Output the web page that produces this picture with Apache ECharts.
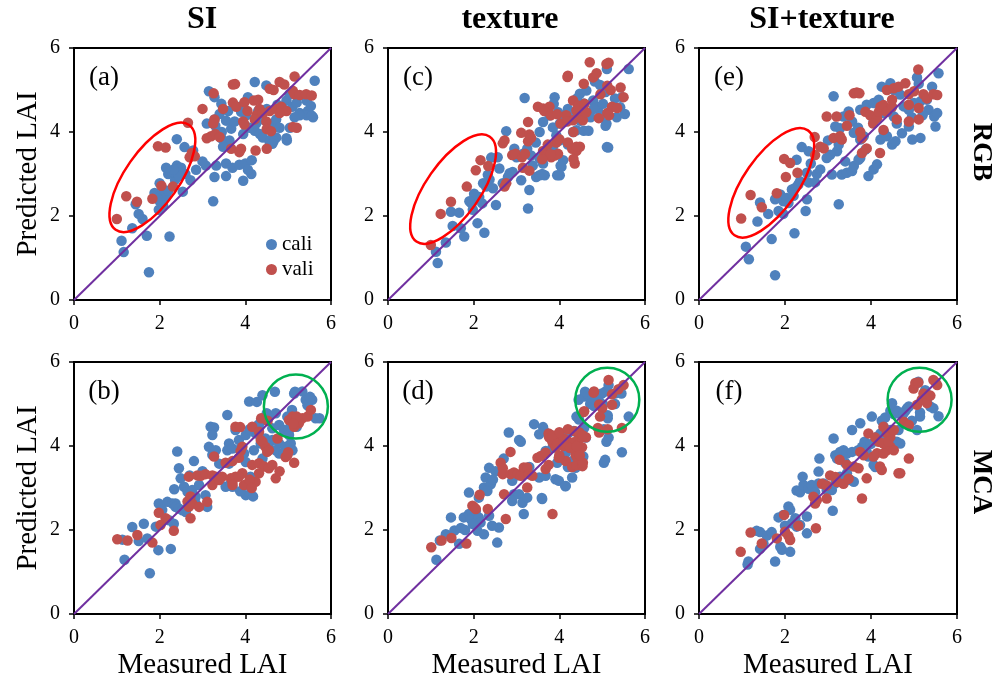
<!DOCTYPE html>
<html>
<head>
<meta charset="utf-8">
<script src="https://cdn.jsdelivr.net/npm/echarts@6/dist/echarts.min.js"></script>
<style>
html, body { margin: 0; padding: 0; background: #fff; }
#chartmain { width: 995px; height: 684px; }
</style>
</head>
<body>
<div id="chartmain"></div>
<script>
// measured vs predicted LAI, [measured, predicted]
var aCali = [[1.75,0.66],[1.16,1.14],[1.11,1.41],[2.23,1.51],[1.70,1.53],[1.36,1.71],[1.60,1.93],[1.51,2.05],[1.44,2.28],
  [1.98,2.15],[2.08,2.25],[2.00,2.35],[1.88,2.55],[2.04,2.50],[2.15,2.45],[2.00,2.78],[2.10,2.62],[1.95,2.42],[2.20,2.60],
  [2.36,2.86],[2.54,2.58],[2.20,3.00],[2.30,3.05],[2.40,3.20],[2.50,3.15],[2.45,2.95],[2.32,3.10],[2.15,3.15],
  [2.40,3.83],[2.58,3.64],[2.78,3.56],[2.72,2.85],[3.25,2.35],[3.28,2.93],[3.08,3.20],[3.32,3.20],[3.55,3.25],
  [3.55,2.95],[3.70,3.15],[3.86,3.22],[4.00,3.25],[4.15,3.33],[3.95,2.84],[4.14,3.00],[4.06,3.10],
  [3.15,4.97],[3.28,4.83],[3.44,4.67],[3.40,4.43],[3.55,4.27],[3.28,4.30],[3.67,4.08],[3.63,3.80],[3.48,3.65],[3.44,3.85],
  [3.75,4.25],[3.90,4.48],[4.02,4.40],[4.06,4.83],[3.87,4.60],[4.22,5.19],[4.49,5.11],[4.22,4.03],[4.34,3.95],[4.41,3.87],
  [4.57,3.75],[4.61,3.83],[4.72,3.87],[4.65,4.20],[4.72,4.30],[4.80,4.10],[4.96,3.85],[5.04,4.10],[4.96,4.75],[5.03,4.90],
  [5.10,4.60],[5.20,4.70],[5.27,4.45],[5.43,4.75],[5.46,4.50],[5.58,4.35],[5.43,4.40],[5.27,4.40],[5.62,5.22],[5.53,4.62],
  [5.55,4.39],[4.97,3.80],[4.66,3.78],[4.63,3.72],[3.45,4.00],[3.60,4.50],[4.30,4.50],[4.50,4.55],[4.85,4.60],[4.40,4.30],
  [3.00,3.30],[2.85,3.10],[2.60,3.00],[3.10,4.20],[3.30,4.15],[3.95,3.95],[4.10,4.10],[4.25,4.20],[4.75,4.65],[5.15,4.35]];
var aVali = [[1.00,1.93],[1.22,2.47],[1.47,2.34],[1.83,2.41],[2.04,2.72],[2.31,2.70],[1.96,3.66],[2.14,3.63],[2.66,4.22],
  [2.70,3.40],[2.75,3.50],[2.82,3.42],[3.00,4.55],[3.26,4.92],[3.28,4.30],[3.25,4.20],[3.20,3.90],[3.30,3.95],[3.40,3.88],
  [3.71,5.13],[3.48,4.55],[3.71,4.70],[3.79,4.60],[3.67,3.60],[3.90,3.60],[3.86,3.52],[3.95,4.25],[3.98,4.18],[3.98,4.71],
  [4.24,3.56],[4.33,4.55],[4.26,4.40],[4.22,4.30],[4.41,4.45],[4.49,4.25],[4.57,4.50],[4.72,4.55],[4.84,4.60],[4.96,4.50],[4.80,4.45],
  [4.20,4.75],[4.30,4.77],[4.57,5.03],[4.80,5.19],[5.15,5.32],[5.11,4.98],[5.15,4.90],[5.27,4.88],[5.42,4.90],[5.55,4.87],
  [5.11,4.12],[4.50,4.07],[4.60,4.02],[3.76,5.14],[4.91,5.13],[4.66,5.00],[5.20,4.10],[4.50,3.60],[3.10,3.85],[4.05,4.50]];

var cCali = [[1.16,0.88],[1.12,1.15],[1.35,1.37],[1.51,1.76],[1.78,1.51],[1.70,1.71],[1.47,2.10],[1.66,2.08],[2.25,1.60],[2.09,1.83],
  [1.98,2.15],[1.95,2.30],[2.05,2.40],[2.13,2.45],[2.20,2.30],[2.01,2.53],[1.90,2.35],
  [2.29,2.70],[2.22,2.78],[2.37,2.87],[2.33,2.98],[2.45,2.66],[2.52,2.26],[2.41,3.39],[2.56,3.40],[2.60,3.13],
  [2.68,2.78],[2.84,3.02],[2.91,3.05],[2.80,2.93],[2.76,4.02],[3.11,2.85],[3.30,2.62],[3.27,2.18],[3.19,4.81],
  [3.00,3.40],[3.15,3.48],[3.34,3.44],[3.54,3.37],[3.46,2.93],[3.54,2.97],[3.66,2.97],[3.38,3.20],[3.62,3.25],
  [3.70,3.56],[3.77,3.48],[3.85,3.64],[4.01,3.80],[3.93,3.92],[3.54,4.00],[3.62,4.24],[3.77,4.39],[3.85,4.11],[4.01,4.20],[4.09,4.35],[4.16,4.27],[3.97,4.47],
  [3.89,4.83],[4.01,2.97],[4.05,3.17],[4.09,3.33],[4.32,4.00],[4.48,4.28],[4.63,4.43],[4.40,4.04],[4.48,4.91],[4.63,4.99],
  [4.79,4.75],[4.91,4.59],[5.02,4.67],[4.95,4.35],[5.10,4.20],[4.83,5.20],[4.95,5.12],[5.14,3.63],
  [5.62,5.50],[5.11,5.50],[5.11,3.64],[5.34,4.35],[5.53,4.43],[5.42,4.59],[5.46,4.83],[5.08,4.15],[4.96,4.43],[4.80,4.55],
  [4.73,4.35],[4.57,4.03],[4.68,4.03],[4.49,4.27],[5.08,4.95],[4.41,4.80],[4.57,4.68],[3.87,4.67],[4.03,3.20],[3.95,2.97],[3.60,3.00],
  [3.25,3.60],[2.95,3.60],[3.45,3.75],[4.20,4.55],[4.30,4.40],[5.25,4.60],[5.30,4.80],[4.20,3.70]];
var cVali = [[1.00,1.31],[1.23,2.05],[1.47,2.34],[1.84,2.70],[2.05,3.09],[2.16,3.33],[2.34,3.19],[2.72,2.70],[2.76,2.78],
  [2.68,3.73],[2.72,3.80],[2.90,3.45],[2.98,3.48],[3.13,3.40],[3.20,3.48],[3.11,3.98],[3.30,3.94],[3.27,3.78],[3.34,3.86],
  [3.27,4.24],[3.15,3.15],[3.30,3.08],[3.50,4.60],[3.62,4.56],[3.70,4.52],[3.77,4.60],[3.81,3.40],[3.89,3.44],[3.97,3.48],
  [3.93,3.75],[4.00,3.83],[4.16,4.40],[4.32,4.28],[4.40,4.51],[4.48,4.35],[4.55,4.28],[4.63,4.47],[4.32,4.75],[4.44,4.63],[4.59,4.67],
  [4.36,3.25],[4.40,3.55],[4.48,3.65],[4.20,5.34],[4.71,5.66],[4.79,5.30],[4.87,5.40],[5.10,5.62],[5.15,5.65],[4.19,5.31],
  [4.57,5.15],[4.96,4.90],[5.12,5.10],[5.20,5.00],[5.43,5.06],[5.50,4.83],[5.23,4.60],[5.35,4.57],[5.12,4.45],[5.16,4.40],[4.92,4.33],
  [3.65,4.50],[3.80,4.40],[3.95,4.42],[4.03,4.20],[4.18,4.25],[4.33,4.00],[4.20,3.75],[4.30,3.60],[4.40,3.65],[4.33,3.36],
  [3.73,3.70],[3.62,3.55],[3.72,3.45],[3.80,3.47],[3.60,3.35]];

var eCali = [[1.77,0.59],[1.16,0.97],[1.09,1.27],[1.69,1.45],[2.22,1.59],[1.36,1.87],[1.61,2.05],[1.42,2.32],[1.85,2.12],[1.96,2.05],
  [2.48,2.12],[2.51,2.40],[1.77,2.40],[1.89,2.51],[1.96,2.35],[2.04,2.43],[2.08,2.31],[2.16,2.63],[2.24,2.67],[2.31,2.75],[2.35,2.83],[2.20,2.48],
  [2.27,3.34],[2.39,3.64],[2.55,3.54],[2.51,3.03],[2.55,2.80],[2.70,2.80],[2.74,3.00],[2.82,3.11],
  [3.25,2.28],[3.13,4.85],[3.09,2.99],[3.32,2.99],[3.44,3.03],[3.56,3.07],[3.60,3.19],[3.71,3.34],[3.75,3.38],[3.94,2.95],[4.06,3.11],[4.14,3.23],
  [3.21,3.54],[3.25,3.70],[3.05,3.46],[2.97,3.38],[3.17,4.13],[3.28,4.09],[3.36,4.37],[3.48,4.49],[3.56,4.25],[3.60,3.98],[3.75,3.82],[3.83,3.90],[3.87,3.58],
  [3.75,4.53],[3.90,4.65],[4.06,4.69],[4.18,4.77],[4.25,5.08],[4.45,5.16],[4.53,5.00],[4.68,4.89],
  [4.22,3.82],[4.37,3.90],[4.49,3.70],[4.57,3.78],[4.72,3.97],[4.88,4.13],[4.96,3.82],[5.15,3.86],
  [4.06,4.25],[4.29,4.45],[4.45,4.53],[4.53,4.37],[4.76,4.61],[4.88,4.53],[5.00,4.69],[5.15,4.73],[5.30,4.77],[5.34,4.53],
  [5.07,5.30],[5.11,5.15],[5.47,4.37],[5.50,4.13],[5.57,5.40],[5.42,5.08],[5.54,4.45],
  [3.40,3.30],[3.00,3.80],[4.30,4.00],[4.60,4.20],[4.95,4.35],[5.20,4.40],[3.70,4.10],[2.60,3.25]];
var eVali = [[0.98,1.94],[1.20,2.50],[1.46,2.21],[1.81,2.54],[2.02,2.93],[1.98,3.36],[2.12,3.26],[2.29,3.03],
  [2.69,3.88],[2.70,3.45],[2.82,3.65],[2.90,3.61],[2.97,4.37],[3.20,4.37],[3.13,3.86],[3.28,3.90],[3.32,3.82],[3.44,4.15],
  [3.60,4.92],[3.67,4.94],[3.73,4.92],[3.87,4.48],[3.98,4.40],[4.14,4.33],[4.18,4.48],[4.22,4.60],[4.29,4.64],[4.37,4.48],[4.49,4.60],
  [3.79,3.85],[3.90,3.61],[3.79,3.50],[4.21,3.50],[4.29,4.05],[3.75,4.00],[4.37,5.00],[4.53,5.04],[4.64,5.08],[4.80,5.16],[4.49,4.77],
  [4.88,4.90],[5.00,4.97],[4.88,4.25],[5.11,4.57],[5.11,4.30],[4.88,4.65],[5.22,4.90],[5.30,4.80],[5.10,5.49],[5.45,4.90],[5.54,4.88],
  [3.50,4.40],[4.05,4.20],[4.60,4.30]];

var bCali = [[1.77,0.97],[1.18,1.29],[1.13,1.77],[1.36,2.07],[1.63,2.15],[1.51,1.74],[1.97,1.52],[2.26,1.55],[1.71,1.80],
  [1.91,2.08],[1.98,2.63],[2.06,2.48],[2.18,2.67],[2.30,2.63],[2.37,2.63],[2.33,2.15],[2.22,2.23],
  [2.37,2.55],[2.45,2.51],[2.53,2.47],[2.61,2.43],[2.84,2.63],[2.34,2.97],[2.49,3.23],[2.57,3.03],[2.65,2.91],
  [2.41,3.87],[2.45,3.47],[2.80,3.64],[2.76,2.95],[2.84,2.79],[3.07,2.83],[3.11,2.55],[2.92,3.07],
  [3.19,4.46],[3.27,4.44],[3.23,4.26],[3.15,3.98],[3.23,3.79],[3.31,3.90],[3.39,3.58],
  [3.58,4.74],[3.62,4.06],[3.58,3.90],[3.70,3.94],[3.62,3.58],[3.85,4.14],[3.89,3.94],[3.97,3.82],[4.01,3.62],
  [3.54,3.03],[3.70,3.03],[3.66,3.11],[4.01,2.83],[4.09,5.06],[4.12,3.27],[4.12,3.03],
  [3.77,4.38],[4.01,4.26],[4.16,4.42],[4.24,4.30],[4.32,4.42],[4.36,4.06],[4.47,4.18],[4.55,4.06],[4.63,4.14],[4.79,4.06],[4.79,3.82],[4.71,3.90],[4.94,3.98],[5.02,4.26],[5.06,4.06],[5.10,3.90],[4.90,3.82],
  [4.40,5.21],[4.36,4.58],[4.55,4.70],[4.71,4.78],[4.79,4.50],[4.63,4.42],[4.90,4.38],[5.02,4.38],[5.14,4.58],
  [5.14,5.25],[5.41,5.10],[5.56,5.10],[5.45,4.97],[5.52,5.14],[5.33,5.30],[5.64,4.66],[5.51,5.17],[5.16,5.29],[5.73,4.66],[5.09,4.86],
  [4.98,4.70],[5.05,4.46],[5.20,4.46],[4.69,5.29],[4.27,5.05],[4.50,4.78],[4.10,4.40],[4.30,4.50],[4.18,2.80],[3.88,2.92],
  [3.00,3.40],[3.40,3.20],[4.40,3.70],[4.20,3.90],[2.70,3.30]];
var bVali = [[1.01,1.78],[1.25,1.75],[1.48,1.88],[1.83,1.70],[1.98,2.41],[2.14,2.28],[2.33,1.98],[2.02,2.12],
  [2.65,2.68],[2.68,2.55],[2.72,2.80],[2.76,2.63],[2.92,2.55],[3.11,2.67],[2.72,2.28],
  [2.68,3.27],[2.88,3.30],[2.96,3.29],[3.07,3.33],[3.23,3.30],[3.31,3.27],[3.46,3.27],[3.27,3.75],[3.23,3.07],
  [3.39,3.19],[3.66,3.23],[3.70,3.15],[3.77,3.27],[3.93,3.35],[3.97,3.07],[3.70,3.07],[3.85,3.27],[3.77,4.46],
  [3.54,3.60],[3.70,3.64],[3.85,3.72],[3.89,3.88],[3.93,3.98],[4.24,3.15],
  [4.16,4.46],[4.32,4.34],[4.40,4.10],[4.47,3.98],[4.55,3.90],[4.36,4.14],[4.51,3.86],
  [4.16,3.55],[4.32,3.59],[4.44,3.51],[4.55,3.47],[4.63,3.55],[4.71,3.23],[4.32,3.35],
  [4.75,4.18],[4.94,3.74],[4.98,3.78],[5.14,3.60],[5.02,4.62],[5.10,4.70],[5.18,4.62],[5.25,4.54],[5.33,4.66],[5.14,4.46],
  [5.45,4.70],[5.53,4.86],[5.20,4.70],[5.12,4.53],[4.37,4.66],[4.52,4.60],[3.88,4.45],[5.00,3.85],[4.80,3.40],[4.10,3.20],[4.15,3.00]];

var dCali = [[1.13,1.29],[1.21,1.75],[1.35,1.90],[1.47,2.30],[1.55,1.99],[1.70,2.05],[1.66,1.67],
  [1.77,2.30],[1.89,2.38],[1.93,2.26],[2.05,2.46],[2.12,2.30],[2.16,2.18],[1.98,2.14],[2.09,1.98],
  [2.24,1.90],[2.55,1.70],[2.59,2.06],[1.89,2.89],[2.12,2.77],[2.24,3.01],[2.28,3.25],[2.40,3.09],[2.32,2.93],[2.43,2.10],[2.36,2.34],
  [2.36,3.48],[2.51,3.40],[2.82,4.32],[2.90,3.17],[2.94,2.85],[2.90,2.69],[3.06,2.85],[3.14,2.65],[3.25,2.77],[3.17,2.38],
  [3.10,4.10],[3.06,4.14],[3.41,4.52],[3.53,4.28],[3.60,2.74],[3.53,3.25],[3.68,3.29],[3.91,3.21],[3.99,3.17],
  [3.68,3.88],[3.84,3.96],[3.99,3.72],[4.15,3.84],[4.30,3.64],[4.38,3.48],[4.15,3.05],
  [3.76,4.28],[3.88,4.12],[4.07,4.24],[4.22,4.32],[4.34,4.36],[4.46,4.24],[4.58,4.43],[4.62,4.20],
  [4.46,4.63],[4.58,5.18],[4.62,5.26],[4.77,5.14],[4.93,5.06],[4.81,4.95],[5.02,4.99],[5.08,5.30],[5.04,3.60],
  [4.60,5.29],[4.72,5.00],[4.84,5.10],[4.99,5.25],[5.15,5.45],[5.30,5.25],[5.45,5.25],[5.13,4.66],[5.13,4.73],[5.30,5.00],[5.62,4.70],
  [5.04,4.40],[5.15,4.20],[5.10,4.10],[5.46,3.85],[5.07,3.67],[4.40,4.70],[4.45,5.10],[4.56,3.75],[4.14,3.04],[3.59,2.76],
  [3.62,4.45],[3.65,4.35],[3.95,3.60],[4.20,3.50],[4.30,3.25],[3.30,3.50],[3.00,3.30],[2.70,3.70],[2.45,3.20],[1.80,2.00]];
var dVali = [[1.01,1.59],[1.25,1.75],[1.48,1.81],[1.83,1.68],[1.97,2.58],[2.01,2.54],[2.05,2.50],[2.14,2.84],[2.33,2.50],[2.75,2.26],[2.71,2.85],
  [2.63,3.60],[2.68,3.47],[2.68,3.33],[2.86,3.86],[2.86,3.33],[2.94,3.37],[3.02,3.33],[3.10,3.29],[3.17,3.49],[3.25,3.49],[3.29,3.33],[3.37,3.29],
  [3.25,3.01],[3.49,3.72],[3.57,3.76],[3.68,3.84],[3.68,3.45],[3.84,2.38],
  [3.76,4.21],[3.84,4.09],[3.91,3.97],[3.99,4.25],[4.11,4.17],[4.18,4.13],[4.26,4.01],[4.34,4.09],[4.46,4.17],[4.53,3.97],[4.62,4.21],[4.46,4.33],[4.38,3.80],[4.15,3.64],[3.99,3.72],
  [4.30,3.50],[4.40,3.54],[4.54,3.52],[4.58,4.83],[4.81,5.30],[4.93,4.99],[4.93,4.32],
  [5.15,5.57],[4.80,5.27],[5.23,5.23],[5.38,5.35],[5.50,5.45],[4.57,4.81],[5.23,4.98],[5.00,4.90],[4.95,4.70],[4.90,4.43],[5.13,4.40],[5.46,4.43],
  [3.75,4.30],[3.85,4.25],[4.00,4.33],[4.20,4.40],[4.36,4.35],[4.48,4.30],[4.55,4.25],[3.95,4.05],[4.10,4.00],[4.25,3.95],[4.40,4.00],
  [4.40,3.75],[4.55,3.60],[4.48,3.78],[3.75,3.55],[4.00,3.78]];

var fCali = [[1.15,1.25],[1.13,1.18],[1.77,1.25],[1.42,1.55],[1.50,1.68],[1.34,1.98],[1.42,1.95],[1.58,1.87],[1.69,1.95],[1.89,1.60],[1.93,1.53],[2.12,1.48],
  [1.85,2.30],[1.96,2.36],[2.08,2.56],[2.12,2.48],[2.16,2.16],[2.24,2.28],[2.27,2.08],[2.35,2.12],[2.51,2.32],[2.51,1.92],
  [2.27,2.94],[2.35,2.90],[2.43,3.07],[2.55,2.98],[2.62,3.07],[2.78,3.11],[2.41,3.27],[2.78,3.39],[2.80,3.70],
  [2.90,3.11],[2.97,2.95],[3.09,2.95],[3.17,3.11],[3.28,3.27],[3.40,3.27],[3.44,3.35],[3.52,3.19],[3.60,3.15],
  [3.11,2.46],[3.13,4.18],[3.17,3.78],[3.21,3.70],[3.28,3.86],[3.36,3.90],[3.44,3.82],[3.56,3.86],
  [3.56,4.38],[3.75,4.54],[3.79,3.98],[3.90,3.86],[3.94,3.75],[4.06,3.55],[4.10,3.50],[4.02,4.70],
  [4.14,4.22],[4.22,4.30],[4.25,4.14],[4.37,4.14],[4.53,4.06],[4.60,4.10],[4.68,4.06],[4.45,4.38],
  [4.25,4.60],[4.33,4.68],[4.45,4.84],[4.53,4.76],[4.60,4.84],[4.72,4.72],[4.80,4.84],[4.49,5.02],[4.64,4.38],
  [4.76,4.78],[4.84,4.90],[4.88,4.94],[5.07,5.50],[5.10,5.53],[5.14,4.80],[5.14,4.70],[5.26,5.33],[5.30,5.10],[5.07,4.38],[5.45,4.90],[5.57,4.71],[5.38,4.94],
  [3.70,3.90],[3.85,4.10],[4.00,4.05],[3.40,3.60],[2.70,2.90],[4.30,4.45],[4.95,4.60],[2.00,2.10]];
var fVali = [[0.97,1.48],[1.20,1.94],[1.46,1.68],[1.81,1.80],[1.98,2.36],[2.00,1.96],[2.08,1.86],[2.12,1.76],[2.31,2.10],[2.72,2.04],
  [2.66,2.79],[2.70,2.63],[2.74,2.71],[2.86,3.10],[2.97,3.06],[2.97,2.75],
  [3.05,3.30],[3.17,3.26],[3.21,3.14],[3.36,3.10],[3.48,3.22],[3.27,3.67],[3.44,3.55],[3.60,3.51],[3.71,3.47],[3.79,2.75],[3.90,3.23],
  [3.75,3.86],[3.83,3.78],[3.94,4.30],[4.06,3.75],[4.14,3.83],[4.18,4.10],[4.29,4.06],[4.37,3.90],[4.45,3.98],[4.53,3.90],[4.29,3.82],[4.21,3.51],[4.25,3.43],
  [4.29,4.46],[4.37,4.30],[4.45,4.22],[4.53,4.38],[4.64,3.35],[4.68,3.35],[4.88,3.70],[4.76,4.58],[4.88,4.50],
  [4.99,5.37],[5.03,5.50],[5.10,5.51],[5.07,4.98],[5.18,5.10],[5.30,5.02],[5.45,5.57],[5.54,5.45],[5.50,5.52],[5.22,5.25],[5.38,5.20],
  [4.10,4.20],[4.40,4.10]];

var oneToOne = [[0, 0], [6, 6]];
var colTitles = ['SI', 'texture', 'SI+texture'];
var rowTitles = ['RGB', 'MCA'];
var panelTags = ['(a)', '(c)', '(e)', '(b)', '(d)', '(f)'];

// grid order: a c e / b d f
var panels = [
  { cali: aCali, vali: aVali, left: 74,  top: 48,  width: 257 },
  { cali: cCali, vali: cVali, left: 388, top: 48,  width: 257 },
  { cali: eCali, vali: eVali, left: 699, top: 48,  width: 258 },
  { cali: bCali, vali: bVali, left: 74,  top: 362, width: 257 },
  { cali: dCali, vali: dVali, left: 388, top: 362, width: 257 },
  { cali: fCali, vali: fVali, left: 699, top: 362, width: 258 }
];
// marked regions: grid, centre (data units), radii px, angle deg, colour
var marks = [
  [0, 1.83, 2.92, 64, 27, 55, '#ff0000'],
  [1, 1.52, 2.64, 64, 27, 55, '#ff0000'],
  [2, 1.68, 2.79, 64, 27, 55, '#ff0000'],
  [3, 5.18, 4.94, 32, 32, 0, '#00b050'],
  [4, 5.12, 5.10, 32, 32, 0, '#00b050'],
  [5, 5.13, 5.10, 32, 32, 0, '#00b050']
];

var SERIF = '"Liberation Serif", "Times New Roman", serif';
var BLUE = '#4f81bd', RED = '#c0504d', PURPLE = '#7030a0';

function axis(i, isX) {
  var bottom = i >= 3, leftCol = i % 3 === 0;
  var ax = {
    type: 'value', gridIndex: i, min: 0, max: 6, interval: 2,
    axisLine: { show: true, onZero: false, lineStyle: { color: '#000', width: 2 } },
    axisTick: { show: true, length: 5, lineStyle: { color: '#000', width: 1.5 } },
    axisLabel: { color: '#000', fontSize: 20, fontFamily: SERIF, margin: isX ? 14 : 14 },
    splitLine: { show: false },
    nameLocation: 'middle',
    nameTextStyle: { color: '#000', fontSize: 29, fontFamily: SERIF }
  };
  if (isX && bottom) { ax.name = 'Measured LAI'; ax.nameGap = 37; }
  if (!isX && leftCol) { ax.name = 'Predicted LAI'; ax.nameGap = 31; }
  return ax;
}

var grids = [], xAxes = [], yAxes = [], series = [];
panels.forEach(function (p, i) {
  grids.push({ left: p.left, top: p.top, width: p.width, height: 252,
    show: true, borderColor: '#000', borderWidth: 2, backgroundColor: 'transparent' });
  xAxes.push(axis(i, true));
  yAxes.push(axis(i, false));
  series.push({ name: 'cali', type: 'scatter', xAxisIndex: i, yAxisIndex: i, data: p.cali,
    symbolSize: 10.5, itemStyle: { color: BLUE, opacity: 1 }, z: 2 });
  series.push({ name: 'vali', type: 'scatter', xAxisIndex: i, yAxisIndex: i, data: p.vali,
    symbolSize: 10.5, itemStyle: { color: RED, opacity: 1 }, z: 3 });
  series.push({ type: 'line', xAxisIndex: i, yAxisIndex: i, data: oneToOne, symbol: 'none',
    lineStyle: { color: PURPLE, width: 2 }, silent: true, z: 4 });
});

function label(x, y, text, font, rot) {
  return { type: 'text', x: x, y: y, rotation: rot || 0, z: 20,
    style: { text: text, font: font, fill: '#000', textAlign: 'center', textVerticalAlign: 'middle',
      align: 'center', verticalAlign: 'middle' } };
}

var texts = [];
texts.push(label(202, 20, colTitles[0], 'bold 32px ' + SERIF));
texts.push(label(510, 20, colTitles[1], 'bold 32px ' + SERIF));
texts.push(label(822, 20, colTitles[2], 'bold 32px ' + SERIF));
texts.push(label(981, 152, rowTitles[0], 'bold 27px ' + SERIF, -Math.PI / 2));
texts.push(label(981, 482, rowTitles[1], 'bold 27px ' + SERIF, -Math.PI / 2));
panels.forEach(function (p, i) {
  texts.push(label(p.left + 30, p.top + 30, panelTags[i], '27px ' + SERIF));
});

var chart = echarts.init(document.getElementById('chartmain'));
chart.setOption({
  animation: false,
  backgroundColor: '#fff',
  legend: {
    data: ['cali', 'vali'], orient: 'vertical', left: 261, top: 229,
    icon: 'circle', itemWidth: 11, itemHeight: 11, itemGap: 4,
    textStyle: { color: '#000', fontSize: 21, fontFamily: SERIF }
  },
  grid: grids,
  xAxis: xAxes,
  yAxis: yAxes,
  series: series
});

var rings = marks.map(function (m) {
  var c = chart.convertToPixel({ gridIndex: m[0] }, [m[1], m[2]]);
  return { type: 'ellipse', x: c[0], y: c[1], rotation: m[5] * Math.PI / 180, z: 15,
    shape: { cx: 0, cy: 0, rx: m[3], ry: m[4] },
    style: { fill: 'none', stroke: m[6], lineWidth: 2.5 } };
});
chart.setOption({ graphic: texts.concat(rings) });
</script>
</body>
</html>
